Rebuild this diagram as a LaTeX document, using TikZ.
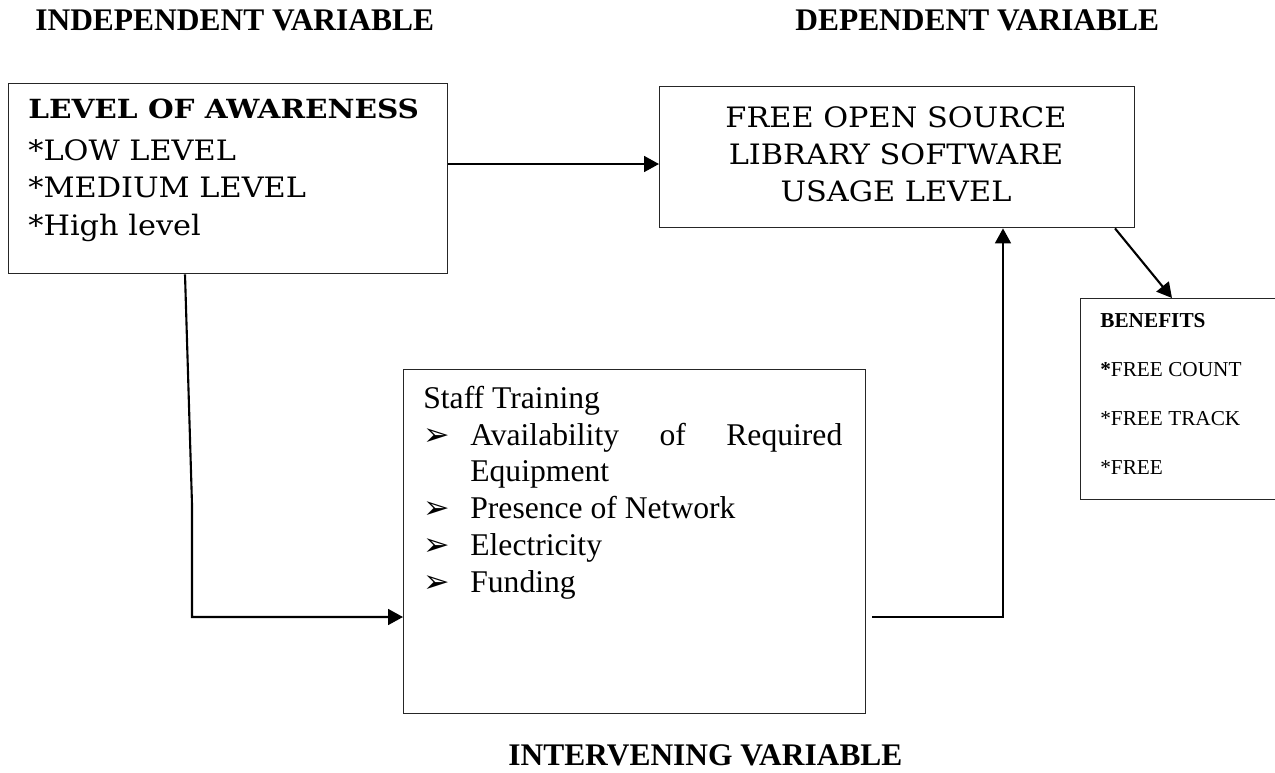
\documentclass[tikz,border=0pt]{standalone}
\usepackage{fontspec}
\setmainfont{Liberation Serif}
\newfontfamily\bookman[FakeStretch=1.08, BoldFeatures={FakeStretch=1.12}]{DejaVu Serif}
\newfontfamily\dingfont{DejaVu Sans}
\usetikzlibrary{arrows.meta,positioning,calc}

\newcommand{\arrowbul}{\makebox[0.94cm][l]{\dingfont\char"27A2}}

\begin{document}
\begin{tikzpicture}[x=0.02cm,y=-0.02cm,
    box/.style={draw=black!85, line width=0.8pt, anchor=north west, inner sep=0pt},
    link/.style={line width=1.2pt},
    tip/.style={link, -{Triangle[length=8.5pt,width=9pt]}},
    heading/.style={anchor=base west, inner sep=0pt, font=\bfseries\fontsize{17.9}{21}\selectfont},
    txt/.style={anchor=base west, inner sep=0pt, align=left}]

  \useasboundingbox (0,0) rectangle (1275,772);

  % headings
  \node[heading] (indep) at (35,30) {INDEPENDENT VARIABLE};
  \node[heading] (dep) at (795,30) {DEPENDENT VARIABLE};
  \node[heading] (interv) at (508,765) {INTERVENING VARIABLE};

  % boxes
  \node[box, minimum width=8.78cm, minimum height=3.8cm] (aware) at (8,83) {};
  \node[box, minimum width=9.5cm, minimum height=2.82cm] (usage) at (659,86) {};
  \node[box, minimum width=9.24cm, minimum height=6.88cm] (staff) at (403,369) {};
  \node[box, minimum width=4cm, minimum height=4.02cm] (benefit) at (1080,298) {};

  % box texts (multi-line nodes sit on their last baseline)
  \node[txt, font=\bookman\bfseries\fontsize{15}{18}\selectfont] (awarehead) at (28,118) {LEVEL OF AWARENESS};
  \node[txt, font=\bookman\fontsize{16}{21.3}\selectfont] (awarelist) at (28,235) {*LOW LEVEL\\*MEDIUM LEVEL\\*High level};
  \node[anchor=base, inner sep=0pt, align=center, font=\bookman\fontsize{16}{21}\selectfont] (usagetxt) at (896,201)
    {FREE OPEN SOURCE\\LIBRARY SOFTWARE\\USAGE LEVEL};
  \node[txt, font=\fontsize{18}{20.9}\selectfont] (stafftxt) at (423,592)
    {Staff Training\\
     \arrowbul\hbox to 7.44cm{Availability\hfill of\hfill Required}\\
     \hspace*{0.94cm}Equipment\\
     \arrowbul Presence of Network\\
     \arrowbul Electricity\\
     \arrowbul Funding};
  \node[txt, font=\fontsize{12.1}{27.8}\selectfont] (benefittxt) at (1100,474)
    {\textbf{BENEFITS}\\\textbf{*}FREE COUNT\\*FREE TRACK\\*FREE};

  % connectors
  \draw[tip] ($(aware.north east)+(0,81)$) -- ($(usage.north west)+(0,78)$);
  \draw[tip] ($(aware.south west)+(177,0)$) -- ++(7,230) |- ($(staff.north west)+(0,248)$);
  \draw[tip] ($(staff.north east)+(6,248)$) -| ($(usage.south west)+(344,0)$);
  \draw[tip] ($(usage.south west)+(456,0)$) -- ($(benefit.north west)+(92,0)$);
\end{tikzpicture}
\end{document}
